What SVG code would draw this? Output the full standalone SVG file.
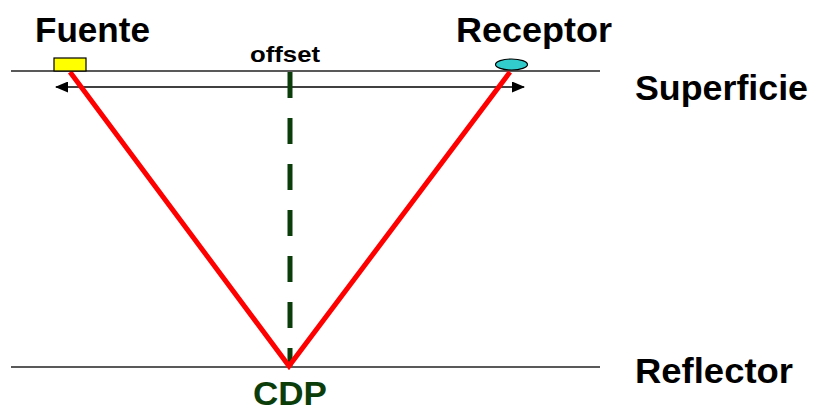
<svg xmlns="http://www.w3.org/2000/svg" width="815" height="414" viewBox="0 0 815 414">
<style>
.lbl{font-family:"Liberation Sans",Arial,sans-serif;font-weight:bold;font-size:35px;fill:#000}
.hline{stroke:#222;stroke-width:1.6;fill:none}
.ray{stroke:#ff0000;stroke-width:5;fill:none;stroke-linecap:butt}
</style>
<defs>
<marker id="ah" viewBox="0 0 13 11" refX="12" refY="5.5" markerWidth="13" markerHeight="11" markerUnits="userSpaceOnUse" orient="auto-start-reverse">
<path d="M0,0 L13,5.5 L0,11 Z" fill="#000"/>
</marker>
</defs>
<rect width="815" height="414" fill="#fff"/>
<g id="connectors">
<line class="hline" x1="11" y1="71" x2="600" y2="71"/>
<line class="hline" x1="11" y1="367" x2="600" y2="367"/>
<line x1="56" y1="87" x2="524" y2="87" stroke="#000" stroke-width="1.6" marker-start="url(#ah)" marker-end="url(#ah)"/>
<line x1="290" y1="72" x2="290" y2="366" stroke="#0b3d0b" stroke-width="5" stroke-dasharray="26 20"/>
<polyline class="ray" points="70,72 289,366 510,72"/>
</g>
<g id="fuente">
<rect x="54" y="58" width="32" height="13" fill="#ffff00" stroke="#000" stroke-width="1.2"/>
<text class="lbl" x="35" y="42" textLength="115" lengthAdjust="spacingAndGlyphs">Fuente</text>
</g>
<g id="receptor">
<ellipse cx="511.5" cy="64.5" rx="16" ry="5.5" fill="#33cccc" stroke="#000" stroke-width="1.2"/>
<text class="lbl" x="456" y="42" textLength="156" lengthAdjust="spacingAndGlyphs">Receptor</text>
</g>
<g id="offset">
<text class="lbl" x="250" y="62" style="font-size:22px" textLength="70" lengthAdjust="spacingAndGlyphs">offset</text>
</g>
<g id="superficie">
<text class="lbl" x="635" y="100" textLength="173" lengthAdjust="spacingAndGlyphs">Superficie</text>
</g>
<g id="reflector">
<text class="lbl" x="635" y="383" textLength="158" lengthAdjust="spacingAndGlyphs">Reflector</text>
</g>
<g id="cdp">
<text class="lbl" x="253" y="405" style="fill:#0b3d0b;font-size:33px" textLength="74" lengthAdjust="spacingAndGlyphs">CDP</text>
</g>
</svg>
